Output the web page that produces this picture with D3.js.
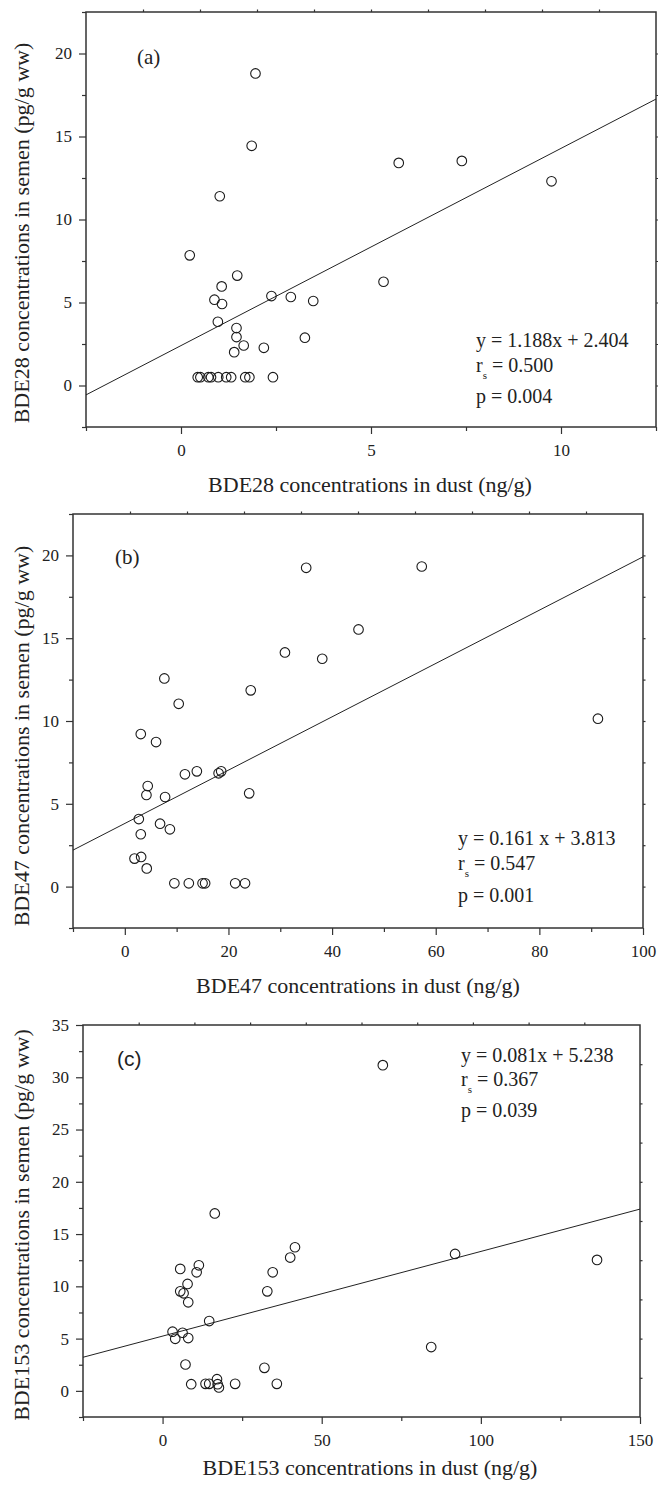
<!DOCTYPE html>
<html>
<head>
<meta charset="utf-8">
<script src="https://cdn.jsdelivr.net/npm/d3@7"></script>
<style>
  body { margin: 0; background: #fff; }
  svg { display: block; }
  .tick text { font-family: "Liberation Serif", "Times New Roman", serif; font-size: 17px; fill: #222; }
  .tick line { stroke: #333; stroke-width: 1.2; }
  .serif { font-family: "Liberation Serif", "Times New Roman", serif; fill: #222; }
</style>
</head>
<body>
<div id="chart"></div>
<script>
// panel (a) BDE28
const bde28Dust = [1.96, 1.86, 1.02, 0.23, 1.48, 1.07, 0.88, 1.08, 2.38, 2.89, 3.48, 0.97, 1.46, 1.46, 1.65, 1.40, 2.18, 3.26,
  0.44, 0.51, 0.72, 0.79, 0.98, 1.19, 1.32, 1.69, 1.80, 2.42, 5.73, 7.39, 9.75, 5.33]
const bde28Semen = [18.8, 14.44, 11.4, 7.84, 6.62, 5.97, 5.17, 4.91, 5.39, 5.33, 5.09, 3.84, 3.46, 2.92, 2.41, 2.01, 2.27, 2.88,
  0.5, 0.5, 0.5, 0.5, 0.5, 0.5, 0.5, 0.5, 0.5, 0.5, 13.41, 13.53, 12.3, 6.25]

// panel (b) BDE47
const bde47Dust = [35.0, 30.9, 38.1, 7.63, 10.4, 24.3, 3.08, 6.03, 11.6, 13.9, 18.1, 18.6, 4.42, 4.17, 7.77, 24.0, 2.7, 6.8, 8.7, 3.08,
  1.87, 3.15, 4.23, 9.56, 12.35, 15.0, 15.5, 21.3, 23.2, 57.3, 45.1, 91.3]
const bde47Semen = [19.25, 14.14, 13.76, 12.57, 11.04, 11.85, 9.21, 8.73, 6.78, 6.96, 6.84, 6.96, 6.07, 5.53, 5.41, 5.63, 4.08, 3.8, 3.46, 3.16,
  1.69, 1.79, 1.1, 0.2, 0.2, 0.2, 0.2, 0.2, 0.2, 19.33, 15.53, 10.14]

// panel (c) BDE153
const bde153Dust = [16.4, 5.55, 11.4, 10.7, 7.85, 5.55, 6.6, 8.06, 14.65, 3.14, 6.28, 3.98, 8.06, 7.2, 9.0, 13.5, 14.65, 17.1, 17.3, 17.7,
  22.8, 32.0, 35.9, 32.9, 34.6, 40.1, 41.6, 69.2, 91.9, 136.5, 84.4]
const bde153Semen = [16.97, 11.67, 12.01, 11.34, 10.23, 9.52, 9.33, 8.47, 6.68, 5.66, 5.56, 4.98, 5.05, 2.52, 0.64, 0.67, 0.67, 1.12, 0.64, 0.32,
  0.67, 2.2, 0.67, 9.52, 11.34, 12.75, 13.74, 31.16, 13.1, 12.53, 4.19]

// fits: [slope, intercept]
const fitA = [1.188, 2.404]
const fitB = [0.161, 3.813]
const fitC = [0.081, 5.238]

// tick values
const xMajorA = [0, 5, 10], xMinorA = [-2.5, 2.5, 7.5, 12.5]
const yMajorA = [0, 5, 10, 15, 20], yMinorA = [-2.5, 2.5, 7.5, 12.5, 17.5, 22.5]
const xMajorB = [0, 20, 40, 60, 80, 100], xMinorB = [-10, 10, 30, 50, 70, 90]
const yMajorB = [0, 5, 10, 15, 20], yMinorB = [-2.5, 2.5, 7.5, 12.5, 17.5, 22.5]
const xMajorC = [0, 50, 100, 150], xMinorC = [-25, 25, 75, 125]
const yMajorC = [0, 5, 10, 15, 20, 25, 30, 35], yMinorC = [-2.5, 2.5, 7.5, 12.5, 17.5, 22.5, 27.5, 32.5]

const W = 658, H = 1499

const svg = d3.select('#chart').append('svg')
  .attr('width', W)
  .attr('height', H)

function drawPanel(cfg) {
  const {box} = cfg
  const x = d3.scaleLinear().domain(cfg.xDomain).range([box.left, box.right])
  const y = d3.scaleLinear().domain(cfg.yDomain).range([box.bottom, box.top])
  const g = svg.append('g')

  // minor + major ticks, bottom
  g.append('g')
    .attr('transform', 'translate(0,' + box.bottom + ')')
    .call(d3.axisBottom(x).tickValues(cfg.xMinor).tickSize(4).tickFormat(''))
    .call(s => s.select('.domain').remove())
  g.append('g')
    .attr('transform', 'translate(0,' + box.bottom + ')')
    .call(d3.axisBottom(x).tickValues(cfg.xMajor).tickSize(7).tickPadding(10).tickFormat(d3.format('d')))
    .call(s => s.select('.domain').remove())

  // left
  g.append('g')
    .attr('transform', 'translate(' + box.left + ',0)')
    .call(d3.axisLeft(y).tickValues(cfg.yMinor).tickSize(4).tickFormat(''))
    .call(s => s.select('.domain').remove())
  g.append('g')
    .attr('transform', 'translate(' + box.left + ',0)')
    .call(d3.axisLeft(y).tickValues(cfg.yMajor).tickSize(7).tickPadding(7).tickFormat(d3.format('d')))
    .call(s => s.select('.domain').remove())

  // small ticks on top and right frame
  const fx = d3.scaleLinear().domain([0, 1]).range([box.left, box.right])
  const fy = d3.scaleLinear().domain([0, 1]).range([box.bottom, box.top])
  const tenths = d3.range(1, 10).map(d => d / 10)
  g.append('g')
    .attr('transform', 'translate(0,' + box.top + ')')
    .call(d3.axisTop(fx).tickValues(tenths).tickSize(2.5).tickFormat(''))
    .call(s => s.select('.domain').remove())
  g.append('g')
    .attr('transform', 'translate(' + box.right + ',0)')
    .call(d3.axisRight(fy).tickValues(tenths).tickSize(2.5).tickFormat(''))
    .call(s => s.select('.domain').remove())

  g.append('rect')
    .attr('x', box.left)
    .attr('y', box.top)
    .attr('width', box.right - box.left)
    .attr('height', box.bottom - box.top)
    .attr('fill', 'none')
    .attr('stroke', '#333')
    .attr('stroke-width', 1.5)

  // regression line
  const [m, b] = cfg.fit
  const line = d3.line().x(d => x(d)).y(d => y(m * d + b))
  g.append('path')
    .datum(cfg.xDomain)
    .attr('fill', 'none')
    .attr('stroke', '#222')
    .attr('stroke-width', 1)
    .attr('d', line)

  // points
  g.append('g').selectAll('circle')
    .data(cfg.xs)
    .enter().append('circle')
    .attr('cx', d => x(d))
    .attr('cy', (d, i) => y(cfg.ys[i]))
    .attr('r', 4.8)
    .attr('fill', 'none')
    .attr('stroke', '#1a1a1a')
    .attr('stroke-width', 1.1)

  // panel letter
  g.append('text')
    .attr('x', cfg.tag.x)
    .attr('y', cfg.tag.y)
    .attr('font-family', cfg.tag.sans ? '"Liberation Sans", Arial, sans-serif' : '"Liberation Serif", "Times New Roman", serif')
    .attr('font-size', 21)
    .attr('fill', '#222')
    .text(cfg.tag.text)

  // stats
  const st = cfg.stats
  g.append('text').attr('class', 'serif').attr('font-size', 20)
    .attr('x', st.x).attr('y', st.y[0]).text(st.eq)
  const rs = g.append('text').attr('class', 'serif').attr('font-size', 20)
    .attr('x', st.x).attr('y', st.y[1])
  rs.append('tspan').text('r')
  rs.append('tspan').attr('font-size', 11).attr('dy', 7).text('s')
  rs.append('tspan').attr('dy', -7).text(' = ' + st.r)
  g.append('text').attr('class', 'serif').attr('font-size', 20)
    .attr('x', st.x).attr('y', st.y[2]).text('p = ' + st.p)

  // axis titles
  g.append('text').attr('class', 'serif').attr('font-size', 22)
    .attr('text-anchor', 'middle')
    .attr('x', cfg.xTitle.x).attr('y', cfg.xTitle.y)
    .text(cfg.xTitle.text)
  g.append('text').attr('class', 'serif').attr('font-size', 22)
    .attr('text-anchor', 'middle')
    .attr('transform', 'translate(29,' + cfg.yTitle.y + ') rotate(-90)')
    .text(cfg.yTitle.text)
}

drawPanel({
  box: {left: 86, right: 656, top: 12, bottom: 427},
  xDomain: [-2.5, 12.5], yDomain: [-2.5, 22.5],
  xMajor: xMajorA, xMinor: xMinorA, yMajor: yMajorA, yMinor: yMinorA,
  xs: bde28Dust, ys: bde28Semen, fit: fitA,
  tag: {text: '(a)', x: 137, y: 64},
  stats: {x: 476, y: [347, 372, 403], eq: 'y = 1.188x + 2.404', r: '0.500', p: '0.004'},
  xTitle: {text: 'BDE28 concentrations in dust (ng/g)', x: 370, y: 492},
  yTitle: {text: 'BDE28 concentrations in semen (pg/g ww)', y: 233},
})

drawPanel({
  box: {left: 73, right: 643, top: 514, bottom: 928},
  xDomain: [-10, 100], yDomain: [-2.5, 22.5],
  xMajor: xMajorB, xMinor: xMinorB, yMajor: yMajorB, yMinor: yMinorB,
  xs: bde47Dust, ys: bde47Semen, fit: fitB,
  tag: {text: '(b)', x: 115, y: 564},
  stats: {x: 458, y: [845, 870, 902], eq: 'y = 0.161 x + 3.813', r: '0.547', p: '0.001'},
  xTitle: {text: 'BDE47 concentrations in dust (ng/g)', x: 358, y: 993},
  yTitle: {text: 'BDE47 concentrations in semen (pg/g ww)', y: 736},
})

drawPanel({
  box: {left: 83, right: 640, top: 1025, bottom: 1417},
  xDomain: [-25, 150], yDomain: [-2.5, 35],
  xMajor: xMajorC, xMinor: xMinorC, yMajor: yMajorC, yMinor: yMinorC,
  xs: bde153Dust, ys: bde153Semen, fit: fitC,
  tag: {text: '(c)', x: 117, y: 1066, sans: true},
  stats: {x: 461, y: [1062, 1086, 1117], eq: 'y = 0.081x + 5.238', r: '0.367', p: '0.039'},
  xTitle: {text: 'BDE153 concentrations in dust (ng/g)', x: 370, y: 1475},
  yTitle: {text: 'BDE153 concentrations in semen (pg/g ww)', y: 1225},
})
</script>
</body>
</html>
